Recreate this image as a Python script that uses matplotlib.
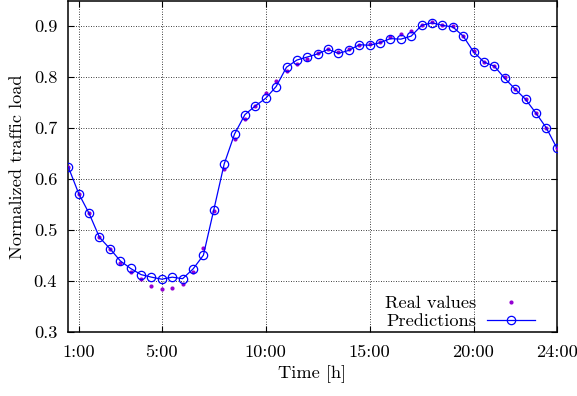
import numpy as np
import matplotlib
matplotlib.use("Agg")
import matplotlib.pyplot as plt

# hours of the day, every half hour
hours = np.arange(0.5, 24.01, 0.5)

real_values = [
    0.623, 0.571, 0.533, 0.485, 0.462, 0.434, 0.418, 0.403, 0.390, 0.383,
    0.386, 0.394, 0.418, 0.464, 0.537, 0.619, 0.678, 0.717, 0.743, 0.768,
    0.792, 0.811, 0.826, 0.835, 0.847, 0.854, 0.848, 0.854, 0.862, 0.864,
    0.869, 0.878, 0.885, 0.890, 0.902, 0.907, 0.902, 0.899, 0.881, 0.851,
    0.829, 0.822, 0.799, 0.777, 0.757, 0.729, 0.700, 0.661,
]

predictions = [
    0.623, 0.571, 0.532, 0.485, 0.463, 0.439, 0.424, 0.412, 0.407, 0.403,
    0.407, 0.404, 0.423, 0.450, 0.539, 0.629, 0.688, 0.726, 0.743, 0.758,
    0.781, 0.819, 0.833, 0.839, 0.845, 0.854, 0.846, 0.852, 0.863, 0.862,
    0.867, 0.875, 0.874, 0.880, 0.901, 0.906, 0.901, 0.898, 0.880, 0.849,
    0.829, 0.821, 0.797, 0.776, 0.756, 0.729, 0.700, 0.661,
]

xtick_pos = [1, 5, 10, 15, 20, 24]
xtick_labels = ["1:00", "5:00", "10:00", "15:00", "20:00", "24:00"]
ytick_pos = [0.3, 0.4, 0.5, 0.6, 0.7, 0.8, 0.9]

plt.rcParams["font.family"] = ["cmr10", "DejaVu Serif"]
plt.rcParams["axes.formatter.use_mathtext"] = True
plt.rcParams["font.size"] = 13.2

fig = plt.figure(figsize=(5.77, 3.96), dpi=100)
ax = fig.add_axes([0.1184, 0.1624, 0.8464, 0.834])

ax.plot(hours, real_values, "o", color="#9400d3", markersize=3,
        markeredgewidth=0, label="Real values", zorder=3)
ax.plot(hours, predictions, "-o", color="#0000ff", linewidth=0.9,
        markersize=6, markerfacecolor="none", markeredgewidth=0.9,
        label="Predictions", zorder=4)

ax.set_xlim(0.5, 24)
ax.set_ylim(0.3, 0.948)
ax.set_xticks(xtick_pos)
ax.set_xticklabels(xtick_labels)
ax.set_yticks(ytick_pos)
ax.set_yticklabels(["%.1f" % v for v in ytick_pos])
ax.tick_params(direction="in", top=True, right=True, length=4, width=0.8)
ax.tick_params(axis="x", pad=9)
ax.tick_params(axis="y", pad=8)
ax.grid(True, color="black", linestyle=(0, (1, 2)), linewidth=0.6)
for s in ax.spines.values():
    s.set_linewidth(1.1)

ax.set_xlabel("Time [h]", labelpad=4)
ax.set_ylabel("Normalized traffic load", labelpad=6)

ax.legend(loc="lower right", markerfirst=False, frameon=False,
          handlelength=2.6, handletextpad=0.6, labelspacing=0.1,
          borderpad=0, borderaxespad=0, bbox_to_anchor=(0.9556, 0.008))

fig.savefig("out.png", dpi=100)
